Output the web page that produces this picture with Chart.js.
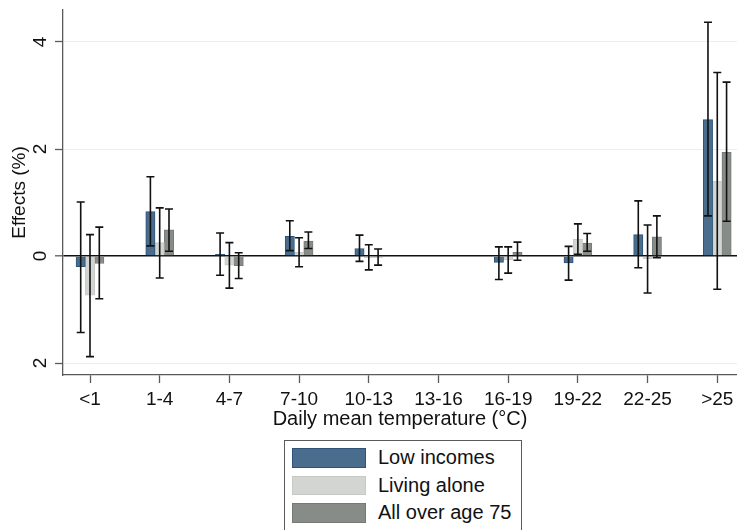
<!DOCTYPE html>
<html>
<head>
<meta charset="utf-8">
<script src="https://cdn.jsdelivr.net/npm/chart.js@4/dist/chart.umd.min.js"></script>
<style>
  html, body { margin: 0; padding: 0; background: #fff; overflow: hidden; }
  #wrap { position: relative; width: 737px; height: 530px; }
  #chart { position: absolute; left: 0; top: 0; }
  #legend {
    position: absolute; left: 284px; top: 440px; width: 238px; height: 130px;
    border: 1.5px solid #5a5a5a; box-sizing: border-box; background: #fff;
    font-family: "Liberation Sans", Arial, sans-serif; font-size: 20px; color: #111;
  }
  .sw { position: absolute; left: 7px; width: 74px; height: 19.5px; box-sizing: border-box; border: 1.5px solid; }
  .lb { position: absolute; left: 93px; height: 19.5px; line-height: 19.5px; white-space: nowrap; }
</style>
</head>
<body>
<div id="wrap">
  <canvas id="chart" width="737" height="530"></canvas>
  <div id="legend"></div>
</div>
<script>
// Temperature bands on the x axis
const categories = ['<1', '1-4', '4-7', '7-10', '10-13', '13-16', '16-19', '19-22', '22-25', '>25'];

// Effect estimates (%) with 95% confidence limits; 13-16 is the reference band
const lowIncomes    = [-0.20, 0.83,  0.03, 0.37,  0.14, null, -0.12, -0.13,  0.40, 2.55];
const lowIncomesLo  = [-1.43, 0.19, -0.36, 0.10, -0.10, null, -0.44, -0.45, -0.22, 0.75];
const lowIncomesHi  = [ 1.01, 1.48,  0.43, 0.66,  0.39, null,  0.17,  0.18,  1.03, 4.37];

const livingAlone   = [-0.73,  0.25, -0.17,  0.07, -0.03, null, -0.07, 0.31, -0.05,  1.40];
const livingAloneLo = [-1.88, -0.41, -0.60, -0.20, -0.26, null, -0.32, 0.03, -0.69, -0.62];
const livingAloneHi = [ 0.40,  0.90,  0.25,  0.34,  0.21, null,  0.17, 0.60,  0.58,  3.43];

const over75        = [-0.14, 0.49, -0.18, 0.28, -0.02, null,  0.07, 0.24,  0.36, 1.94];
const over75Lo      = [-0.80, 0.09, -0.42, 0.14, -0.17, null, -0.08, 0.09, -0.03, 0.65];
const over75Hi      = [ 0.54, 0.88,  0.06, 0.45,  0.13, null,  0.26, 0.42,  0.75, 3.25];

// Y tick values and their printed labels
const yTickValues = [-2, 0, 2, 4];
const yTickLabels = ['2', '0', '2', '4'];

const FONT = '"Liberation Sans", Arial, sans-serif';
const TEXT = '#111';
const AXIS = '#5a5a5a';

function points(values) {
  return values.map((v, i) => ({ x: i + 1, y: v }));
}

const series = [
  { label: 'Low incomes',     values: lowIncomes,  lo: lowIncomesLo,  hi: lowIncomesHi,  fill: '#4a6d8e', edge: '#2d5478' },
  { label: 'Living alone',    values: livingAlone, lo: livingAloneLo, hi: livingAloneHi, fill: '#d2d5d2', edge: '#c6c9c6' },
  { label: 'All over age 75', values: over75,      lo: over75Lo,      hi: over75Hi,      fill: '#888c88', edge: '#767a76' }
];

// Confidence-interval whiskers drawn on top of each bar
const errorBars = {
  id: 'errorBars',
  afterDatasetsDraw(chart) {
    const { ctx, scales: { y } } = chart;
    ctx.save();
    ctx.strokeStyle = '#111';
    ctx.lineWidth = 1.6;
    chart.data.datasets.forEach((ds, di) => {
      const meta = chart.getDatasetMeta(di);
      meta.data.forEach((bar, i) => {
        const lo = ds.lo[i], hi = ds.hi[i];
        if (lo == null || hi == null) return;
        const x = bar.x;
        const yLo = y.getPixelForValue(lo);
        const yHi = y.getPixelForValue(hi);
        const cap = 4;
        ctx.beginPath();
        ctx.moveTo(x, yLo); ctx.lineTo(x, yHi);
        ctx.moveTo(x - cap, yLo); ctx.lineTo(x + cap, yLo);
        ctx.moveTo(x - cap, yHi); ctx.lineTo(x + cap, yHi);
        ctx.stroke();
      });
    });
    ctx.restore();
  }
};

function noEdgePadding(scale) {
  scale.paddingTop = 0; scale.paddingBottom = 0;
  scale.paddingLeft = 0; scale.paddingRight = 0;
}

const chart = new Chart(document.getElementById('chart'), {
  type: 'bar',
  data: {
    datasets: series.map(s => ({
      label: s.label,
      data: points(s.values),
      lo: s.lo,
      hi: s.hi,
      backgroundColor: s.fill,
      borderColor: s.edge,
      borderWidth: 1,
      barThickness: 9.3
    }))
  },
  options: {
    responsive: false,
    animation: false,
    devicePixelRatio: 1,
    layout: { padding: { top: 10, right: 0, bottom: 99, left: 0 } },
    plugins: { legend: { display: false }, tooltip: { enabled: false } },
    scales: {
      x: {
        type: 'linear',
        offset: false,
        min: 0.6126,
        max: 10.283,
        afterBuildTicks: (scale) => { scale.ticks = categories.map((c, i) => ({ value: i + 1 })); },
        afterFit: (scale) => { scale.height = 56; noEdgePadding(scale); },
        ticks: {
          callback: (v) => categories[v - 1],
          font: { family: FONT, size: 19 },
          color: TEXT,
          padding: 5,
          maxRotation: 0,
          minRotation: 0,
          autoSkip: false
        },
        grid: { offset: false, drawOnChartArea: false, drawTicks: true, tickLength: 8, tickColor: AXIS, tickWidth: 1.3 },
        border: { display: true, color: AXIS, width: 1.3 },
        title: {
          display: true,
          text: 'Daily mean temperature (°C)',
          font: { family: FONT, size: 20 },
          color: TEXT,
          padding: { top: 0, bottom: 0 }
        }
      },
      y: {
        min: -2.224,
        max: 4.598,
        afterBuildTicks: (scale) => { scale.ticks = yTickValues.map(v => ({ value: v })); },
        afterFit: (scale) => { scale.width = 63; noEdgePadding(scale); },
        ticks: {
          callback: (v) => yTickLabels[yTickValues.indexOf(v)],
          font: { family: FONT, size: 19 },
          color: TEXT,
          padding: 9,
          minRotation: 90,
          maxRotation: 90,
          crossAlign: 'center'
        },
        grid: {
          color: (c) => (c.tick && c.tick.value === 0) ? '#111' : '#e4f0f1',
          lineWidth: (c) => (c.tick && c.tick.value === 0) ? 1.6 : 1,
          drawTicks: true,
          tickLength: 8,
          tickColor: AXIS,
          tickWidth: 1.3
        },
        border: { display: true, color: AXIS, width: 1.3 },
        title: {
          display: true,
          text: 'Effects (%)',
          font: { family: FONT, size: 19 },
          color: TEXT,
          padding: { top: 8.5, bottom: 0 }
        }
      }
    }
  },
  plugins: [errorBars]
});

// Boxed legend below the plot
const legend = document.getElementById('legend');
const rowTops = [7, 34.5, 62];
series.forEach((s, i) => {
  const sw = document.createElement('div');
  sw.className = 'sw';
  sw.style.top = rowTops[i] + 'px';
  sw.style.background = s.fill;
  sw.style.borderColor = s.edge;
  legend.appendChild(sw);
  const lb = document.createElement('div');
  lb.className = 'lb';
  lb.style.top = rowTops[i] + 'px';
  lb.textContent = s.label;
  legend.appendChild(lb);
});
</script>
</body>
</html>
